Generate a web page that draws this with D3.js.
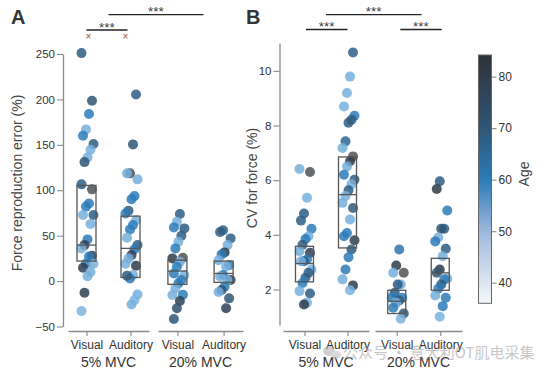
<!DOCTYPE html>
<html>
<head>
<meta charset="utf-8">
<script src="https://cdn.jsdelivr.net/npm/d3@7"></script>
<style>
body { margin: 0; background: #fff; }
svg { display: block; font-family: "Liberation Sans", Arial, sans-serif; }
</style>
</head>
<body>
<div id="mainDiv"></div>
<script>
'use strict';

// categorias
var conditions = ['Visual', 'Auditory'];
var levels = ['5% MVC', '20% MVC'];

// painel A: erro de reprodução de força (%), pares [valor, idade] (null = sem idade)
var errVis5 = [[251,68],[198.5,70],[184,60],[167,53],[160,60],[151,68],[144.6,53],[136,53],[131,70],
  [106.5,68],[101,null],[85.5,60],[82,60],[72.7,53],[72.7,68],[62.8,53],[45.9,60],[39.6,78],[36,53],
  [27.9,80],[27,60],[19.4,60],[14.7,78],[19,53],[10,53],[5.4,53],[-12.9,78],[-33,52]];
var errAud5 = [[205.5,68],[150.5,70],[118.6,null],[118.6,53],[112,53],[93.6,60],[90,60],[77.4,68],
  [74.5,60],[67,53],[61.7,60],[56.9,60],[47.7,53],[39.6,68],[35,60],[28.6,78],[25,53],[19,53],[16.8,80],
  [6.6,53],[2.9,60],[6,68],[-14.7,53],[-21,52],[-25.7,53]];
var errVis20 = [[73.8,68],[65.3,53],[59.1,60],[58,68],[49.9,68],[43.3,53],[36,60],[25,80],[25.7,null],
  [21.2,53],[15.7,60],[8.4,60],[6.6,53],[1.1,60],[-2.5,60],[-8,53],[-15.4,53],[-15,60],[-22,78],
  [-30,72],[-41.8,70]];
var errAud20 = [[56,68],[54,68],[47,68],[39.6,53],[31.6,80],[29.4,60],[23,53],[17.6,60],[16,53],
  [6.6,60],[5,53],[1.1,80],[1,53],[-6.3,60],[-9.9,70],[-12,53],[-19,70],[-30,78]];

// painel B: CV da força (%)
var cvVis5 = [[6.41,53],[6.30,null],[5.36,53],[4.78,68],[4.52,68],[4.22,60],[3.95,53],[3.85,60],
  [3.64,68],[3.40,53],[3.34,78],[3.10,60],[3.03,68],[3.03,53],[2.73,53],[2.61,68],[2.43,68],[2.24,60],
  [1.94,53],[1.85,68],[1.51,53],[1.45,80]];
var cvAud5 = [[10.67,68],[9.79,53],[9.19,53],[8.70,53],[8.36,60],[8.21,68],[8.1,68],[7.42,66],[7.18,53],
  [6.87,null],[6.69,80],[6.5,53],[6.20,60],[6.02,68],[5.85,53],[5.63,68],[5.42,53],[5.17,53],[4.98,68],
  [4.56,53],[4.07,60],[3.95,60],[3.80,78],[3.46,68],[3.18,60],[2.73,60],[2.37,53],[2.15,80],[1.97,52]];
var cvVis20 = [[3.46,62],[2.88,80],[2.61,53],[2.61,null],[2.18,53],[2.18,68],[1.88,68],[1.70,60],
  [1.70,60],[1.6,68],[1.51,53],[1.33,60],[1.12,70],[0.93,52]];
var cvAud20 = [[5.96,68],[5.68,80],[4.89,60],[4.22,68],[4.22,70],[3.9,53],[3.76,60],[3.49,68],[3.22,53],
  [2.73,80],[2.61,70],[2.4,53],[2.37,60],[2.18,68],[2.03,60],[1.78,53],[1.70,60],[1.39,60],[1.00,52]];

// caixas: [q1, mediana, q3]
var errBoxes = [[22,39.6,105.3],[4,36,71.5],[-3.6,11,23],[-1.4,8.4,22]];
var cvBoxes = [[2.28,2.95,3.58],[3.52,5.47,6.85],[1.12,1.57,1.97],[1.97,2.61,3.14]];

// ticks
var errTicks = [-50, 0, 50, 100, 150, 200, 250];
var cvTicks = [2, 4, 6, 8, 10];
var ageTicks = [40, 50, 60, 70, 80];
var ageRange = [36, 84.2];

var chart = {};
chart.w = 552;
chart.h = 376;
chart.axisColor = '#8a8a8a';
chart.textColor = '#333';

chart.ageColor = d3.scaleLinear()
  .domain([36, 50, 60, 70, 84])
  .range(['#f5f7fb', '#9eb8dc', '#2c7bb8', '#2f5676', '#2e3238'])
  .clamp(true);

// pontos: um pouco mais saturados que a barra de cores
chart.color = function(age) {
  if (age === null) return '#505254';
  if (age < 56) return d3.interpolateRgb('#7db4df', '#5fa0d4')((age - 52) / 4);
  return chart.ageColor(age);
};

chart.jitter = function(i) { return ((i * 7) % 9 - 4) * 1.5; };

chart.appendSvg = function(div) {
  return d3.select(div).append('svg')
    .attr('width', chart.w)
    .attr('height', chart.h);
};

chart.styleAxis = function(g, size) {
  g.selectAll('path.domain').attr('stroke', chart.axisColor).attr('stroke-width', 1.3);
  g.selectAll('.tick line').attr('stroke', chart.axisColor).attr('stroke-width', 1.1);
  g.selectAll('.tick text').attr('fill', chart.textColor)
    .style('font-size', size + 'px').style('font-family', '"Liberation Sans", Arial, sans-serif');
};

chart.sigBar = function(svg, s) {
  svg.append('line')
    .attr('x1', s.from).attr('x2', s.to)
    .attr('y1', s.y).attr('y2', s.y)
    .attr('stroke', '#222').attr('stroke-width', 1.3);
  svg.append('text')
    .attr('x', (s.from + s.to) / 2).attr('y', s.y + 1.5)
    .attr('text-anchor', 'middle')
    .attr('fill', '#3a3a3a')
    .style('font-size', '13.5px')
    .text('***');
};

chart.drawPanel = function(svg, p) {
  var y = d3.scaleLinear().domain(p.yDomain).range(p.yRange);

  var yAxis = svg.append('g')
    .attr('transform', 'translate(' + p.axisX + ',0)')
    .call(d3.axisLeft(y).tickValues(p.ticks).tickSize(6).tickSizeOuter(0).tickPadding(2));
  chart.styleAxis(yAxis, 11.5);

  svg.append('text')
    .attr('transform', 'translate(' + p.titleX + ',' + p.titleY + ') rotate(-90)')
    .attr('text-anchor', 'middle')
    .attr('fill', '#444')
    .style('font-size', '14px')
    .text(p.title);

  svg.append('text')
    .attr('x', p.letterX).attr('y', 24)
    .attr('fill', '#333')
    .style('font-size', '20px').style('font-weight', 'bold')
    .text(p.letter);

  var centers = [];
  levels.forEach(function(lv, gi) {
    var x = d3.scalePoint().domain(conditions).range(p.groups[gi]).padding(p.padding);
    var xAxis = svg.append('g')
      .attr('transform', 'translate(0,331)')
      .call(d3.axisBottom(x).tickSize(5).tickSizeOuter(0).tickPadding(4));
    chart.styleAxis(xAxis, 12);

    svg.append('text')
      .attr('x', (p.groups[gi][0] + p.groups[gi][1]) / 2)
      .attr('y', 367)
      .attr('text-anchor', 'middle')
      .attr('fill', chart.textColor)
      .style('font-size', '14px')
      .text(lv);

    conditions.forEach(function(c) { centers.push(x(c)); });
  });

  p.data.forEach(function(pts, k) {
    svg.append('g').selectAll('circle')
      .data(pts)
      .enter()
      .append('circle')
      .attr('cx', function(d, i) { return centers[k] + 1 + chart.jitter(i + k); })
      .attr('cy', function(d) { return y(d[0]); })
      .attr('r', 5)
      .style('fill', function(d) { return chart.color(d[1]); })
      .style('fill-opacity', 0.85);
  });

  var boxes = svg.append('g').selectAll('g')
    .data(p.boxes)
    .enter()
    .append('g');

  boxes.append('rect')
    .attr('x', function(d, k) { return centers[k] - p.boxW / 2; })
    .attr('y', function(d) { return y(d[2]); })
    .attr('width', p.boxW)
    .attr('height', function(d) { return y(d[0]) - y(d[2]); })
    .attr('fill', 'none')
    .attr('stroke', '#555')
    .attr('stroke-width', 1.3);

  boxes.append('line')
    .attr('x1', function(d, k) { return centers[k] - p.boxW / 2; })
    .attr('x2', function(d, k) { return centers[k] + p.boxW / 2; })
    .attr('y1', function(d) { return y(d[1]); })
    .attr('y2', function(d) { return y(d[1]); })
    .attr('stroke', '#555')
    .attr('stroke-width', 1.3);

  return centers;
};

chart.drawColorbar = function(svg) {
  var x0 = 478.5, x1 = 491.5, top = 55, bottom = 303.3;
  var s = d3.scaleLinear().domain(ageRange).range([bottom, top]);

  var grad = svg.append('defs').append('linearGradient')
    .attr('id', 'ageGrad')
    .attr('x1', 0).attr('y1', 1).attr('x2', 0).attr('y2', 0);
  d3.range(0, 1.0001, 0.05).forEach(function(t) {
    grad.append('stop')
      .attr('offset', t)
      .attr('stop-color', chart.ageColor(ageRange[0] + t * (ageRange[1] - ageRange[0])));
  });

  svg.append('rect')
    .attr('x', x0).attr('y', top)
    .attr('width', x1 - x0).attr('height', bottom - top)
    .attr('fill', 'url(#ageGrad)')
    .attr('stroke', '#666').attr('stroke-width', 1);

  var ax = svg.append('g')
    .attr('transform', 'translate(' + x1 + ',0)')
    .call(d3.axisRight(s).tickValues(ageTicks).tickSize(5).tickSizeOuter(0).tickPadding(2));
  ax.select('path.domain').remove();
  chart.styleAxis(ax, 12);

  svg.append('text')
    .attr('transform', 'translate(529,174) rotate(-90)')
    .attr('text-anchor', 'middle')
    .attr('fill', '#444')
    .style('font-size', '14px')
    .text('Age');
};

chart.drawWatermark = function(svg) {
  var g = svg.append('g').attr('opacity', 0.55);
  g.append('ellipse').attr('cx', 329).attr('cy', 351).attr('rx', 6).attr('ry', 5).attr('fill', '#aaa');
  g.append('ellipse').attr('cx', 336).attr('cy', 355).attr('rx', 5).attr('ry', 4.2).attr('fill', '#bbb');
  g.append('text')
    .attr('x', 343).attr('y', 358)
    .attr('fill', '#999')
    .style('font-family', '"Noto Sans CJK SC", sans-serif')
    .style('font-size', '15px')
    .text('公众号 · 意大利OT肌电采集');
};

chart.run = function() {
  var svg = chart.appendSvg('#mainDiv');

  var cA = chart.drawPanel(svg, {
    letter: 'A', letterX: 11,
    title: 'Force reproduction error (%)', titleX: 22, titleY: 183,
    yDomain: [-50, 250], yRange: [326.5, 54], ticks: errTicks, axisX: 63,
    groups: [[68, 149], [158, 243]], padding: 0.42, boxW: 19,
    data: [errVis5, errAud5, errVis20, errAud20], boxes: errBoxes
  });
  var cB = chart.drawPanel(svg, {
    letter: 'B', letterX: 246,
    title: 'CV for force (%)', titleX: 257, titleY: 178,
    yDomain: [0.7, 11.02], yRange: [325, 43], ticks: cvTicks, axisX: 279.5,
    groups: [[283, 369], [375, 462]], padding: 0.5, boxW: 18,
    data: [cvVis5, cvAud5, cvVis20, cvAud20], boxes: cvBoxes
  });

  // barras de significância
  chart.sigBar(svg, {from: (cA[0] + cA[1]) / 2, to: (cA[2] + cA[3]) / 2 + 3, y: 14.7});
  chart.sigBar(svg, {from: cA[0], to: cA[1] - 3, y: 30});
  chart.sigBar(svg, {from: (cB[0] + cB[1]) / 2, to: (cB[2] + cB[3]) / 2 + 3, y: 14.7});
  chart.sigBar(svg, {from: cB[0] + 1.5, to: cB[1], y: 29.5});
  chart.sigBar(svg, {from: cB[2] + 3.5, to: cB[3] + 1.5, y: 29.5});

  [cA[0] + 2, cA[1] - 5].forEach(function(x) {
    svg.append('text').attr('x', x).attr('y', 40)
      .attr('text-anchor', 'middle').attr('fill', '#a0522d').style('font-size', '10px').text('×');
  });

  chart.drawColorbar(svg);
  chart.drawWatermark(svg);
};

window.onload = chart.run;
</script>
</body>
</html>
